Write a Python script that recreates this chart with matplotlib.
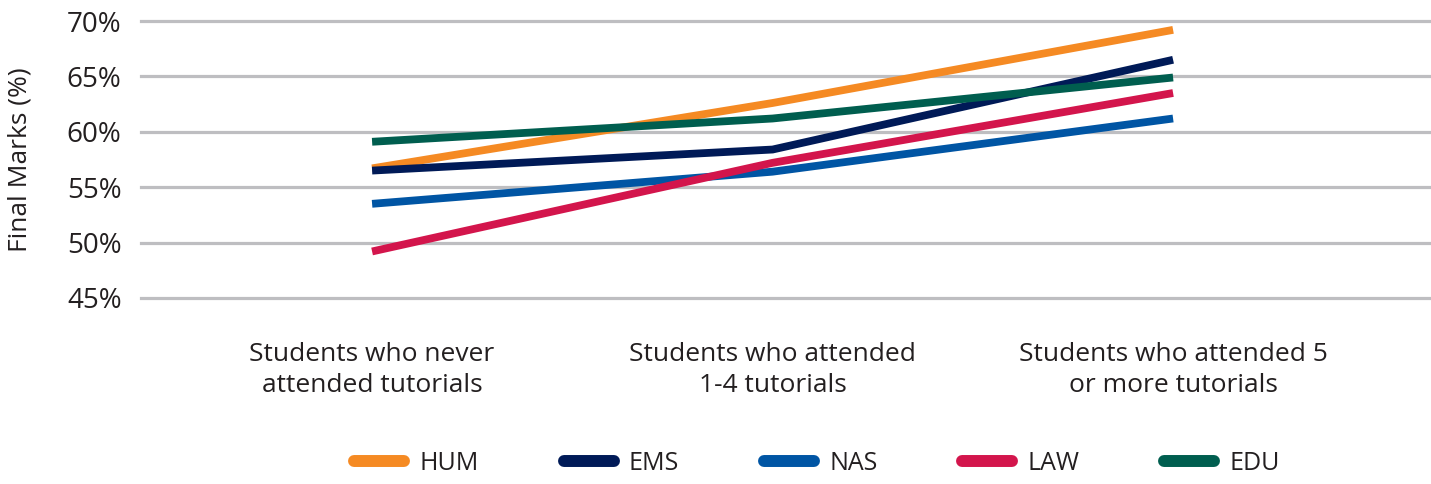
import matplotlib.pyplot as plt
from matplotlib import font_manager
from matplotlib.lines import Line2D

categories = ["Students who never\nattended tutorials",
              "Students who attended\n1-4 tutorials",
              "Students who attended 5\nor more tutorials"]
series_names = ["HUM", "EMS", "NAS", "LAW", "EDU"]
hum = [56.7, 62.6, 69.2]
ems = [56.5, 58.4, 66.5]
nas = [53.5, 56.4, 61.2]
law = [49.2, 57.2, 63.5]
edu = [59.1, 61.2, 64.9]
y_ticks = [45, 50, 55, 60, 65, 70]

colors = ["#F58A23", "#001A57", "#0055A4", "#D3154C", "#005E4F"]
text_color = "#231F20"

installed = {f.name for f in font_manager.fontManager.ttflist}
legend_font = "Liberation Sans Narrow" if "Liberation Sans Narrow" in installed else "Open Sans"
plt.rcParams["font.family"] = ["Open Sans", "DejaVu Sans"]

fig = plt.figure(figsize=(14.31, 4.84), dpi=100)
# plot area in pixels: x 141..1431, y 21..298
ax = fig.add_axes([141 / 1431, 1 - 298 / 484, 1290 / 1431, 277 / 484])

x = list(range(len(categories)))
for vals, c in zip([hum, ems, nas, law, edu], colors):
    ax.plot(x, vals, color=c, lw=5.6, solid_capstyle="butt", solid_joinstyle="miter", zorder=3)

ax.set_ylim(45, 70)
ax.set_xlim(-0.577, 2.644)
ax.set_yticks(y_ticks)
ax.set_yticklabels([f"{v}%" for v in y_ticks], fontsize=20, color=text_color)
ax.yaxis.grid(True, color="#BEBEC1", lw=2.3)
for gl in ax.get_ygridlines():
    gl.set_clip_on(False)
ax.set_axisbelow(True)
ax.tick_params(axis="y", length=0, pad=14)
ax.set_xticks([])
for s in ax.spines.values():
    s.set_visible(False)

for xi, lab in zip(x, categories):
    ax.text(xi, 41.0, lab, ha="center", va="top", fontsize=19, color=text_color,
            linespacing=1.3)

fig.text(20 / 1431, 1 - 160 / 484, "Final Marks (%)", rotation=90, ha="center", va="center",
         fontsize=19, color=text_color)

handles = [Line2D([], [], color=c, lw=8.6, solid_capstyle="round") for c in colors]
fig.legend(handles, series_names, loc="center", bbox_to_anchor=(817 / 1431, 1 - 463 / 484),
           ncol=5, frameon=False, handlelength=2.0, handletextpad=0.6, columnspacing=3.4,
           prop={"family": legend_font, "size": 18}, labelcolor=text_color)

fig.savefig("out.png", dpi=100)
